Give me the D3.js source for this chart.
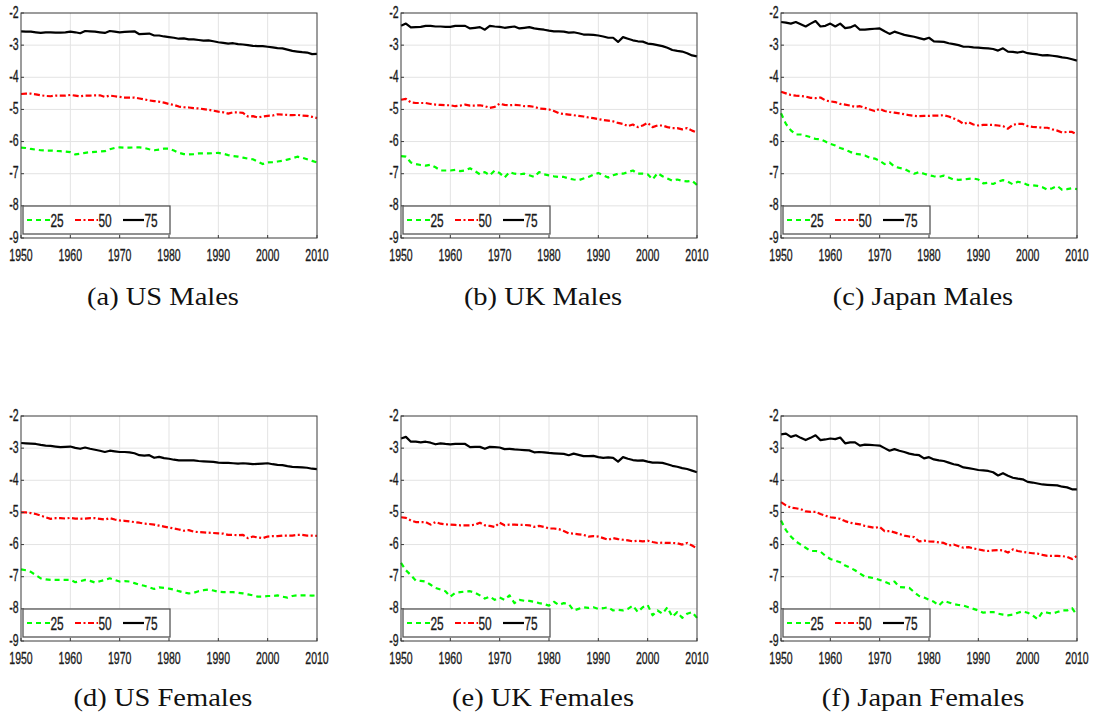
<!DOCTYPE html>
<html><head><meta charset="utf-8">
<script src="https://cdn.jsdelivr.net/npm/d3@7"></script>
<style>body{margin:0;background:#fff}svg{display:block}</style>
</head><body>
<svg id="c" width="1094" height="715"></svg>
<script>
const years = d3.range(1950, 2011);
const xTicks = [1950,1960,1970,1980,1990,2000,2010];
const yTicks = [-2,-3,-4,-5,-6,-7,-8,-9];
const seriesNames = ["25","50","75"];
const captions = ["(a) US Males","(b) UK Males","(c) Japan Males","(d) US Females","(e) UK Females","(f) Japan Females"];

// (a) US Males
const usM25 = [-6.19,-6.20,-6.23,-6.25,-6.27,-6.28,-6.28,-6.29,-6.30,-6.31,
-6.33,-6.40,-6.38,-6.35,-6.33,-6.32,-6.31,-6.30,-6.24,-6.20,
-6.18,-6.19,-6.19,-6.18,-6.18,-6.20,-6.24,-6.27,-6.25,-6.22,
-6.22,-6.28,-6.35,-6.39,-6.40,-6.39,-6.37,-6.37,-6.37,-6.36,
-6.35,-6.38,-6.42,-6.45,-6.47,-6.50,-6.53,-6.55,-6.62,-6.70,
-6.65,-6.64,-6.62,-6.60,-6.56,-6.52,-6.47,-6.50,-6.55,-6.60,-6.65];
const usM50 = [-4.52,-4.51,-4.51,-4.53,-4.56,-4.58,-4.59,-4.57,-4.57,-4.57,
-4.55,-4.57,-4.59,-4.57,-4.57,-4.56,-4.56,-4.61,-4.57,-4.59,
-4.61,-4.63,-4.63,-4.63,-4.66,-4.69,-4.72,-4.74,-4.76,-4.79,
-4.83,-4.86,-4.91,-4.93,-4.94,-4.96,-4.97,-4.99,-5.01,-5.04,
-5.07,-5.09,-5.13,-5.09,-5.09,-5.11,-5.22,-5.21,-5.25,-5.22,
-5.20,-5.19,-5.15,-5.16,-5.17,-5.18,-5.17,-5.19,-5.20,-5.23,-5.27];
const usM75 = [-2.57,-2.58,-2.58,-2.60,-2.62,-2.60,-2.60,-2.61,-2.61,-2.60,
-2.58,-2.60,-2.63,-2.56,-2.57,-2.58,-2.60,-2.62,-2.56,-2.58,
-2.60,-2.59,-2.58,-2.57,-2.66,-2.65,-2.64,-2.70,-2.70,-2.73,
-2.75,-2.77,-2.80,-2.79,-2.82,-2.82,-2.84,-2.86,-2.85,-2.88,
-2.91,-2.93,-2.95,-2.94,-2.97,-2.98,-3.00,-3.02,-3.03,-3.03,
-3.05,-3.07,-3.09,-3.10,-3.14,-3.18,-3.20,-3.22,-3.23,-3.28,-3.27];
// (b) UK Males
const ukM25 = [-6.45,-6.47,-6.65,-6.70,-6.73,-6.75,-6.72,-6.80,-6.90,-6.90,
-6.90,-6.88,-6.92,-6.90,-6.83,-6.92,-7.02,-6.95,-7.05,-6.90,
-6.98,-7.12,-6.95,-7.00,-7.02,-7.00,-7.05,-7.10,-6.95,-7.02,
-7.05,-7.08,-7.10,-7.10,-7.15,-7.18,-7.20,-7.15,-7.10,-7.03,
-6.98,-7.05,-7.12,-7.05,-7.00,-7.00,-6.95,-6.90,-7.00,-7.00,
-7.02,-7.18,-6.98,-7.08,-7.15,-7.22,-7.18,-7.22,-7.24,-7.22,-7.35];
const ukM50 = [-4.70,-4.67,-4.78,-4.80,-4.80,-4.80,-4.83,-4.85,-4.86,-4.87,
-4.87,-4.90,-4.88,-4.85,-4.88,-4.88,-4.87,-4.90,-4.95,-4.92,
-4.82,-4.86,-4.87,-4.86,-4.87,-4.90,-4.90,-4.92,-4.97,-4.98,
-5.00,-5.05,-5.12,-5.14,-5.16,-5.18,-5.20,-5.22,-5.25,-5.27,
-5.30,-5.33,-5.35,-5.37,-5.42,-5.45,-5.52,-5.47,-5.55,-5.50,
-5.42,-5.55,-5.50,-5.50,-5.55,-5.58,-5.58,-5.62,-5.58,-5.66,-5.72];
const ukM75 = [-2.40,-2.33,-2.45,-2.44,-2.43,-2.40,-2.40,-2.42,-2.42,-2.43,
-2.43,-2.40,-2.40,-2.40,-2.48,-2.46,-2.44,-2.52,-2.40,-2.42,
-2.43,-2.46,-2.44,-2.42,-2.48,-2.46,-2.44,-2.48,-2.50,-2.52,
-2.55,-2.57,-2.57,-2.58,-2.61,-2.60,-2.63,-2.67,-2.67,-2.68,
-2.70,-2.73,-2.77,-2.77,-2.90,-2.75,-2.80,-2.85,-2.88,-2.89,
-2.95,-2.97,-3.00,-3.03,-3.08,-3.15,-3.18,-3.20,-3.25,-3.32,-3.35];
// (c) Japan Males
const jpM25 = [-5.12,-5.45,-5.65,-5.78,-5.78,-5.82,-5.86,-5.92,-5.93,-6.00,
-6.07,-6.12,-6.20,-6.25,-6.32,-6.38,-6.40,-6.43,-6.50,-6.53,
-6.60,-6.70,-6.65,-6.78,-6.82,-6.85,-6.93,-7.00,-6.95,-7.00,
-7.05,-7.08,-7.10,-7.06,-7.12,-7.18,-7.19,-7.18,-7.16,-7.15,
-7.18,-7.30,-7.28,-7.32,-7.25,-7.20,-7.25,-7.33,-7.25,-7.28,
-7.35,-7.36,-7.38,-7.42,-7.50,-7.45,-7.38,-7.50,-7.48,-7.45,-7.48];
const jpM50 = [-4.45,-4.50,-4.55,-4.57,-4.58,-4.60,-4.64,-4.65,-4.63,-4.72,
-4.75,-4.77,-4.83,-4.85,-4.88,-4.92,-4.90,-4.95,-5.00,-5.05,
-4.98,-5.05,-5.08,-5.10,-5.12,-5.15,-5.18,-5.20,-5.21,-5.20,
-5.20,-5.19,-5.19,-5.18,-5.22,-5.28,-5.35,-5.45,-5.40,-5.47,
-5.50,-5.48,-5.48,-5.48,-5.50,-5.52,-5.60,-5.48,-5.45,-5.45,
-5.52,-5.54,-5.55,-5.57,-5.57,-5.62,-5.66,-5.72,-5.70,-5.70,-5.78];
const jpM75 = [-2.28,-2.30,-2.33,-2.28,-2.35,-2.42,-2.33,-2.25,-2.42,-2.40,
-2.33,-2.42,-2.33,-2.47,-2.45,-2.38,-2.52,-2.52,-2.50,-2.49,
-2.48,-2.57,-2.65,-2.58,-2.63,-2.68,-2.71,-2.74,-2.78,-2.82,
-2.77,-2.88,-2.89,-2.90,-2.94,-2.97,-3.00,-3.05,-3.05,-3.07,
-3.08,-3.09,-3.10,-3.12,-3.17,-3.10,-3.20,-3.21,-3.23,-3.20,
-3.25,-3.27,-3.29,-3.32,-3.31,-3.33,-3.35,-3.38,-3.40,-3.44,-3.48];
// (d) US Females
const usF25 = [-6.77,-6.80,-6.85,-6.95,-7.05,-7.08,-7.10,-7.10,-7.10,-7.10,
-7.10,-7.17,-7.14,-7.10,-7.13,-7.18,-7.14,-7.10,-7.05,-7.10,
-7.15,-7.14,-7.15,-7.20,-7.25,-7.28,-7.33,-7.38,-7.33,-7.35,
-7.37,-7.40,-7.45,-7.49,-7.52,-7.50,-7.45,-7.42,-7.40,-7.43,
-7.47,-7.48,-7.48,-7.48,-7.50,-7.52,-7.55,-7.58,-7.62,-7.62,
-7.60,-7.60,-7.58,-7.62,-7.65,-7.60,-7.58,-7.58,-7.58,-7.59,-7.58];
const usF50 = [-5.00,-5.00,-5.02,-5.05,-5.10,-5.15,-5.20,-5.18,-5.18,-5.19,
-5.17,-5.19,-5.20,-5.19,-5.18,-5.18,-5.20,-5.22,-5.18,-5.22,
-5.25,-5.26,-5.28,-5.30,-5.32,-5.35,-5.36,-5.38,-5.41,-5.44,
-5.47,-5.50,-5.53,-5.57,-5.55,-5.60,-5.61,-5.62,-5.63,-5.64,
-5.65,-5.66,-5.70,-5.70,-5.71,-5.70,-5.80,-5.75,-5.78,-5.80,
-5.75,-5.74,-5.74,-5.72,-5.72,-5.72,-5.70,-5.70,-5.72,-5.72,-5.73];
const usF75 = [-2.84,-2.85,-2.86,-2.87,-2.90,-2.92,-2.93,-2.95,-2.97,-2.96,
-2.95,-2.99,-3.02,-2.98,-3.02,-3.05,-3.08,-3.12,-3.08,-3.10,
-3.12,-3.12,-3.13,-3.16,-3.22,-3.23,-3.22,-3.30,-3.27,-3.31,
-3.33,-3.36,-3.38,-3.38,-3.38,-3.38,-3.40,-3.41,-3.42,-3.43,
-3.45,-3.46,-3.46,-3.47,-3.48,-3.47,-3.48,-3.50,-3.49,-3.48,
-3.47,-3.50,-3.52,-3.53,-3.56,-3.58,-3.59,-3.60,-3.61,-3.64,-3.65];
// (e) UK Females
const ukF25 = [-6.57,-6.80,-6.95,-7.12,-7.13,-7.15,-7.25,-7.35,-7.40,-7.45,
-7.62,-7.50,-7.48,-7.46,-7.45,-7.50,-7.58,-7.68,-7.62,-7.72,
-7.65,-7.72,-7.58,-7.82,-7.72,-7.75,-7.75,-7.78,-7.82,-7.85,
-7.90,-7.78,-7.88,-7.82,-7.85,-8.05,-8.00,-7.95,-7.97,-7.95,
-8.00,-7.98,-7.95,-8.05,-8.03,-8.05,-8.00,-7.90,-8.10,-7.95,
-7.88,-8.20,-8.05,-8.15,-7.95,-8.25,-8.10,-8.28,-8.15,-8.10,-8.28];
const ukF50 = [-5.15,-5.17,-5.25,-5.30,-5.30,-5.30,-5.38,-5.30,-5.35,-5.37,
-5.38,-5.39,-5.40,-5.40,-5.40,-5.38,-5.32,-5.40,-5.42,-5.45,
-5.32,-5.40,-5.38,-5.38,-5.39,-5.39,-5.40,-5.45,-5.42,-5.45,
-5.50,-5.50,-5.52,-5.58,-5.65,-5.66,-5.68,-5.70,-5.75,-5.74,
-5.75,-5.80,-5.85,-5.80,-5.83,-5.85,-5.87,-5.90,-5.88,-5.90,
-5.88,-5.92,-5.95,-5.94,-5.95,-5.95,-5.96,-6.00,-5.95,-6.03,-6.12];
const ukF75 = [-2.70,-2.65,-2.80,-2.80,-2.82,-2.80,-2.83,-2.88,-2.85,-2.87,
-2.88,-2.87,-2.87,-2.87,-2.97,-2.96,-2.96,-3.02,-2.96,-2.97,
-2.98,-3.03,-3.02,-3.04,-3.05,-3.06,-3.07,-3.13,-3.12,-3.13,
-3.15,-3.16,-3.17,-3.18,-3.22,-3.17,-3.21,-3.25,-3.25,-3.24,
-3.28,-3.30,-3.29,-3.30,-3.42,-3.28,-3.33,-3.37,-3.39,-3.38,
-3.42,-3.45,-3.45,-3.46,-3.50,-3.55,-3.58,-3.62,-3.65,-3.70,-3.75];
// (f) Japan Females
const jpF25 = [-5.25,-5.55,-5.75,-5.90,-6.00,-6.10,-6.20,-6.20,-6.22,-6.35,
-6.45,-6.50,-6.55,-6.65,-6.72,-6.80,-6.90,-7.00,-7.02,-7.05,
-7.10,-7.15,-7.22,-7.15,-7.32,-7.33,-7.35,-7.48,-7.60,-7.65,
-7.72,-7.78,-7.90,-7.75,-7.80,-7.85,-7.88,-7.90,-7.95,-8.00,
-8.05,-8.12,-8.10,-8.10,-8.15,-8.18,-8.20,-8.18,-8.12,-8.08,
-8.12,-8.20,-8.32,-8.10,-8.12,-8.15,-8.10,-8.05,-8.05,-7.98,-8.20];
const jpF50 = [-4.68,-4.78,-4.85,-4.87,-4.90,-4.97,-4.98,-4.98,-5.05,-5.10,
-5.15,-5.17,-5.20,-5.27,-5.32,-5.35,-5.37,-5.42,-5.45,-5.48,
-5.45,-5.58,-5.58,-5.62,-5.67,-5.72,-5.75,-5.77,-5.90,-5.88,
-5.90,-5.91,-5.93,-5.95,-6.03,-6.00,-6.05,-6.10,-6.08,-6.12,
-6.15,-6.18,-6.20,-6.18,-6.17,-6.18,-6.25,-6.15,-6.20,-6.23,
-6.25,-6.27,-6.28,-6.32,-6.35,-6.35,-6.35,-6.36,-6.38,-6.45,-6.35];
const jpF75 = [-2.57,-2.55,-2.65,-2.60,-2.68,-2.75,-2.68,-2.60,-2.75,-2.73,
-2.70,-2.72,-2.67,-2.85,-2.82,-2.82,-2.92,-2.89,-2.90,-2.91,
-2.92,-3.00,-3.08,-3.03,-3.08,-3.12,-3.17,-3.20,-3.22,-3.32,
-3.28,-3.35,-3.38,-3.40,-3.45,-3.50,-3.53,-3.60,-3.62,-3.65,
-3.68,-3.69,-3.71,-3.75,-3.85,-3.78,-3.86,-3.92,-3.95,-3.97,
-4.05,-4.07,-4.10,-4.13,-4.14,-4.15,-4.16,-4.20,-4.22,-4.28,-4.28];

const panels = [
  [usM25, usM50, usM75], [ukM25, ukM50, ukM75], [jpM25, jpM50, jpM75],
  [usF25, usF50, usF75], [ukF25, ukF50, ukF75], [jpF25, jpF50, jpF75]
];

const styles = [
  {color:"#00ff00", dash:"5,4"},
  {color:"#ff0000", dash:"6,2.5,2,2.5"},
  {color:"#000000", dash:null}
];

const svg = d3.select("#c");
const W = 296, H = 225;
const lefts = [21, 401, 781];
const tops = [13, 416];
const captionY = [305, 706];
const tickFont = "'Liberation Sans', Arial, Helvetica, sans-serif";
const capFont = "'Liberation Serif', 'Times New Roman', serif";

function condText(g, x, y, str, anchor, size, sx) {
  g.append("g").attr("transform", `translate(${x},${y}) scale(${sx},1)`)
    .append("text").attr("x", 0).attr("y", 0)
    .attr("text-anchor", anchor)
    .style("font-family", tickFont).style("font-size", size + "px")
    .attr("fill", "#1a1a1a").attr("stroke", "#1a1a1a").attr("stroke-width", 0.35)
    .text(str);
}

panels.forEach((ser, i) => {
  const col = i % 3, row = Math.floor(i / 3);
  const L = lefts[col], T = tops[row];
  const x = d3.scaleLinear().domain([1950, 2010]).range([L, L + W]);
  const y = d3.scaleLinear().domain([-9, -2]).range([T + H, T]);
  const g = svg.append("g");

  // grid
  g.selectAll(null).data(xTicks.slice(1, -1)).join("line")
    .attr("x1", d => x(d)).attr("x2", d => x(d)).attr("y1", T).attr("y2", T + H)
    .attr("stroke", "#e3e3e3").attr("stroke-width", 1);
  g.selectAll(null).data(yTicks.slice(1, -1)).join("line")
    .attr("x1", L).attr("x2", L + W).attr("y1", d => y(d)).attr("y2", d => y(d))
    .attr("stroke", "#e3e3e3").attr("stroke-width", 1);

  // lines
  ser.forEach((vals, k) => {
    const line = d3.line().x((d, j) => x(years[j])).y(d => y(d));
    const p = g.append("path").datum(vals).attr("d", line)
      .attr("fill", "none").attr("stroke", styles[k].color).attr("stroke-width", 2.2)
      .attr("stroke-linejoin", "round");
    if (styles[k].dash) p.attr("stroke-dasharray", styles[k].dash);
  });

  // axes box
  g.append("rect").attr("x", L).attr("y", T).attr("width", W).attr("height", H)
    .attr("fill", "none").attr("stroke", "#3a3a3a").attr("stroke-width", 1);

  // small inward ticks
  g.selectAll(null).data(xTicks).join("line")
    .attr("x1", d => x(d)).attr("x2", d => x(d)).attr("y1", T + H).attr("y2", T + H - 3)
    .attr("stroke", "#3a3a3a");
  g.selectAll(null).data(yTicks).join("line")
    .attr("x1", L).attr("x2", L + 3).attr("y1", d => y(d)).attr("y2", d => y(d))
    .attr("stroke", "#3a3a3a");

  // tick labels
  xTicks.forEach(t => condText(g, x(t), T + H + 23, String(t), "middle", 17, 0.62));
  yTicks.forEach(t => condText(g, L - 2.5, y(t) + 4.5, String(t), "end", 17, 0.62));

  // legend
  const lx = L + 2, ly = T + H - 32;
  g.append("rect").attr("x", lx).attr("y", ly).attr("width", 147).attr("height", 28)
    .attr("fill", "#fff").attr("stroke", "#555").attr("stroke-width", 1.3);
  const itemX = [4, 52, 100];
  const itemLen = [23, 23, 21];
  seriesNames.forEach((nm, k) => {
    const sx = lx + itemX[k];
    const ln = g.append("line").attr("x1", sx).attr("x2", sx + itemLen[k])
      .attr("y1", ly + 14).attr("y2", ly + 14)
      .attr("stroke", styles[k].color).attr("stroke-width", 2.2);
    if (styles[k].dash) ln.attr("stroke-dasharray", styles[k].dash);
    condText(g, sx + itemLen[k] + 0.5, ly + 20.5, nm, "start", 18, 0.66);
  });

  // caption
  g.append("g").attr("transform", `translate(${L + W / 2 - 6},${captionY[row]}) scale(1.14,1)`)
    .append("text").attr("text-anchor", "middle")
    .style("font-family", capFont).style("font-size", "25px")
    .attr("fill", "#111").text(captions[i]);
});
</script>
</body></html>
